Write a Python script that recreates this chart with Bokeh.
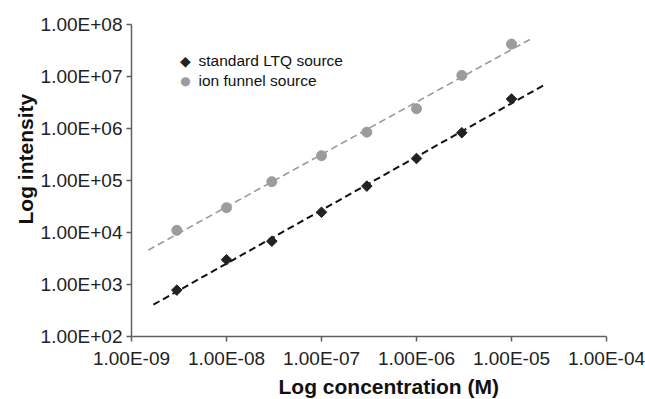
import numpy as np
from bokeh.plotting import figure
from bokeh.models import FixedTicker, CustomJSTickFormatter, ColumnDataSource, Label, Title
from bokeh.embed import file_html
from bokeh.resources import INLINE

# ---- data ----
conc = [3e-9, 1e-8, 3e-8, 1e-7, 3e-7, 1e-6, 3e-6, 1e-5]
ltq_intensity = [780, 3000, 6800, 24500, 78000, 265000, 830000, 3700000]
funnel_intensity = [11000, 30000, 95000, 300000, 850000, 2400000, 10500000, 42000000]
ltq_fit_x = [1.7e-9, 2.3e-5]
funnel_fit_x = [1.5e-9, 1.7e-5]
x_ticks = [1e-9, 1e-8, 1e-7, 1e-6, 1e-5, 1e-4]
y_ticks = [1e2, 1e3, 1e4, 1e5, 1e6, 1e7, 1e8]
ltq_label = "standard LTQ source"
funnel_label = "ion funnel source"
x_title = "Log concentration (M)"
y_title = "Log intensity"

FONT = "Liberation Sans"
LTQ_COLOR = "#222222"
FUNNEL_COLOR = "#9c9c9c"


def fit_line(xs, ys, xr):
    k, b = np.polyfit(np.log10(xs), np.log10(ys), 1)
    xr = np.array(xr, dtype=float)
    return xr, 10 ** (k * np.log10(xr) + b)


p = figure(
    width=645, height=399,
    x_axis_type="log", y_axis_type="log",
    x_range=(x_ticks[0], x_ticks[-1]), y_range=(y_ticks[0], y_ticks[-1]),
    output_backend="svg", toolbar_location=None,
    min_border_left=131, min_border_right=39, min_border_top=24, min_border_bottom=63,
)
p.outline_line_color = None
p.xgrid.visible = False
p.ygrid.visible = False
p.background_fill_color = "white"

fx, fy = fit_line(conc, funnel_intensity, funnel_fit_x)
p.line(fx, fy, line_color="#9a9a9a", line_width=1.6, line_dash="7 4")
lx, ly = fit_line(conc, ltq_intensity, ltq_fit_x)
p.line(lx, ly, line_color="#111111", line_width=2, line_dash="7 4")

src_f = ColumnDataSource(dict(x=conc, y=funnel_intensity))
src_l = ColumnDataSource(dict(x=conc, y=ltq_intensity))
p.scatter("x", "y", source=src_l, marker="square", angle=np.pi / 4, size=7.5,
          fill_color=LTQ_COLOR, line_color=LTQ_COLOR)
p.scatter("x", "y", source=src_f, marker="circle", size=10,
          fill_color=FUNNEL_COLOR, line_color=FUNNEL_COLOR)

fmt = CustomJSTickFormatter(code="""
var s = tick.toExponential(2).toUpperCase();
return s.replace(/E([+-])(\\d)$/, 'E$10$2');
""")

for ax, ticks in ((p.xaxis[0], x_ticks), (p.yaxis[0], y_ticks)):
    ax.ticker = FixedTicker(ticks=ticks, minor_ticks=[])
    ax.formatter = fmt
    ax.axis_line_color = "#606060"
    ax.axis_line_width = 1.5
    ax.major_tick_line_color = "#606060"
    ax.major_tick_line_width = 1.5
    ax.major_tick_out = 5
    ax.major_tick_in = 0
    ax.minor_tick_line_color = None
    ax.major_label_text_font = FONT
    ax.major_label_text_font_size = "19px"
    ax.major_label_text_color = "#222222"

p.xaxis.major_label_standoff = 6
p.yaxis.major_label_standoff = 4

# axis titles, placed off-centre like the original
title_style = dict(text_font=FONT, text_font_size="21px", text_font_style="bold",
                   text_color="#111111", align="left", standoff=2)
p.add_layout(Title(text=x_title, offset=147, **title_style), "below")
p.add_layout(Title(text=y_title, offset=112, **title_style), "left")

# legend (screen units, relative to the plot frame's bottom-left corner)
legend_entries = [(ltq_label, "\u25C6", LTQ_COLOR, 14), (funnel_label, "\u25CF", FUNNEL_COLOR, 12)]
for i, (txt, sym, col, fs) in enumerate(legend_entries):
    yy = 276 - 20 * i
    p.add_layout(Label(x=54, y=yy, x_units="screen", y_units="screen", text=sym,
                       text_color=col, text_font="DejaVu Sans", text_font_size=f"{fs}px",
                       text_align="center", text_baseline="middle"))
    p.add_layout(Label(x=67, y=yy, x_units="screen", y_units="screen", text=txt,
                       text_color="#111111", text_font=FONT, text_font_size="15.5px",
                       text_align="left", text_baseline="middle"))

open("out.html", "w").write(file_html(p, INLINE))
